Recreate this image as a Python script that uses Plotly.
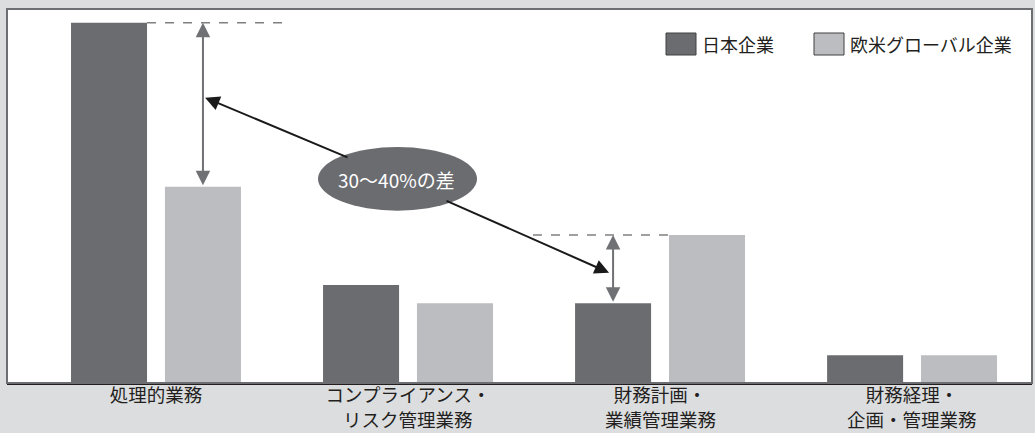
import plotly.graph_objects as go

categories = ["処理的業務", "コンプライアンス・<br>リスク管理業務", "財務計画・<br>業績管理業務", "財務経理・<br>企画・管理業務"]
japan = [65, 17.7, 14.4, 5]
global_ = [35.4, 14.4, 26.7, 5]
series_names = ["日本企業", "欧米グローバル企業"]
diff_label = "30〜40%の差"

DARK = "#6b6c70"
LIGHT = "#bcbdc0"
BG = "#dcdddf"
FONT = "Noto Sans CJK JP"
TXT = "#231f20"

BW = 0.3016
OFF_D = -0.337
OFF_L = 0.0357
cD = OFF_D + BW / 2   # dark bar centre offset
cL = OFF_L + BW / 2   # light bar centre offset

xs = list(range(len(categories)))
first_lines = [c.split("<br>")[0] for c in categories]
second_lines = [c.split("<br>")[1] if "<br>" in c else "" for c in categories]

fig = go.Figure()
fig.add_trace(go.Bar(x=xs, y=japan, width=BW, offset=OFF_D, marker=dict(color=DARK, line=dict(width=0)),
                     name=series_names[0], showlegend=False))
fig.add_trace(go.Bar(x=xs, y=global_, width=BW, offset=OFF_L, marker=dict(color=LIGHT, line=dict(width=0)),
                     name=series_names[1], showlegend=False))

shapes = []
annotations = []

# dashed reference lines
shapes.append(dict(type="line", xref="x", yref="y", x0=0 + OFF_D + BW, x1=0 + 0.504, y0=japan[0], y1=japan[0],
                   line=dict(color="#808080", width=1.5, dash="dash")))
shapes.append(dict(type="line", xref="x", yref="y", x0=2 - 0.504, x1=2 + OFF_L, y0=global_[2], y1=global_[2],
                   line=dict(color="#808080", width=1.5, dash="dash")))

# grey double arrows
for xa, ya, yb in [(0 + cL, japan[0], global_[0]), (2 + cD, global_[2], japan[2])]:
    annotations.append(dict(x=xa, y=ya, ax=xa, ay=yb, xref="x", yref="y", axref="x", ayref="y",
                            text="", showarrow=True, arrowhead=2, startarrowhead=2, arrowside="end+start",
                            arrowsize=1.45, startarrowsize=1.45, arrowwidth=2, arrowcolor="#707174"))

# black arrows from ellipse
annotations.append(dict(x=0.195, y=51.5, ax=0.766, ay=40.6, xref="x", yref="y", axref="x", ayref="y",
                        text="", showarrow=True, arrowhead=2, arrowsize=1.45, arrowwidth=2, arrowcolor="#1a1a1a"))
annotations.append(dict(x=1.798, y=19.9, ax=1.147, ay=33.0, xref="x", yref="y", axref="x", ayref="y",
                        text="", showarrow=True, arrowhead=2, arrowsize=1.45, arrowwidth=2, arrowcolor="#1a1a1a"))

# ellipse
shapes.append(dict(type="circle", xref="x", yref="y", x0=0.643, x1=1.274, y0=31.1, y1=42.6,
                   fillcolor=DARK, line=dict(width=0), layer="above"))
annotations.append(dict(x=0.956, y=36.8, xref="x", yref="y", text=diff_label, showarrow=False,
                        font=dict(family=FONT, size=19, color="white")))

# plot border
shapes.append(dict(type="rect", xref="paper", yref="paper", x0=0, x1=1, y0=0, y1=1,
                   line=dict(color="#6d6e71", width=2), layer="above"))

# custom legend
def px2paper_x(px):
    return (px - 7) / 1025.0

def py2paper_y(py):
    return (383 - py) / 374.0

legend_items = [(666, 700, DARK, series_names[0]), (814, 848, LIGHT, series_names[1])]
for bx, tx, col, name in legend_items:
    shapes.append(dict(type="rect", xref="paper", yref="paper", x0=px2paper_x(bx), x1=px2paper_x(bx + 30),
                       y0=py2paper_y(55), y1=py2paper_y(33), fillcolor=col,
                       line=dict(color="#404040", width=1)))
    annotations.append(dict(x=px2paper_x(tx), y=py2paper_y(44), xref="paper", yref="paper", xanchor="left",
                            yanchor="middle", text=name, showarrow=False,
                            font=dict(family=FONT, size=18, color=TXT)))

# second lines of category labels
for xv, t in zip(xs, second_lines):
    if t:
        annotations.append(dict(x=xv, y=0, xref="x", yref="paper", xanchor="center",
                                yanchor="bottom", yshift=-50, borderpad=0, text=t, showarrow=False,
                                font=dict(family=FONT, size=18.5, color=TXT)))

fig.update_layout(
    width=1035, height=433,
    margin=dict(l=7, r=3, t=9, b=50, autoexpand=False),
    paper_bgcolor=BG, plot_bgcolor="white",
    barmode="overlay",
    shapes=shapes, annotations=annotations,
    font=dict(family=FONT, color=TXT),
    xaxis=dict(range=[-0.591, 3.476], tickvals=xs, ticktext=first_lines, showgrid=False, zeroline=False,
               showline=True, linecolor="#231f20", linewidth=2, ticks="", automargin=False,
               ticklabelstandoff=-5,
               tickfont=dict(family=FONT, size=18.5, color=TXT)),
    yaxis=dict(range=[0, 67.5], showgrid=False, zeroline=False, showticklabels=False, ticks="",
               automargin=False),
)

fig.write_html("out.html", config={"displayModeBar": False},
               post_script="document.body.style.margin='0';document.body.style.overflow='hidden';")
